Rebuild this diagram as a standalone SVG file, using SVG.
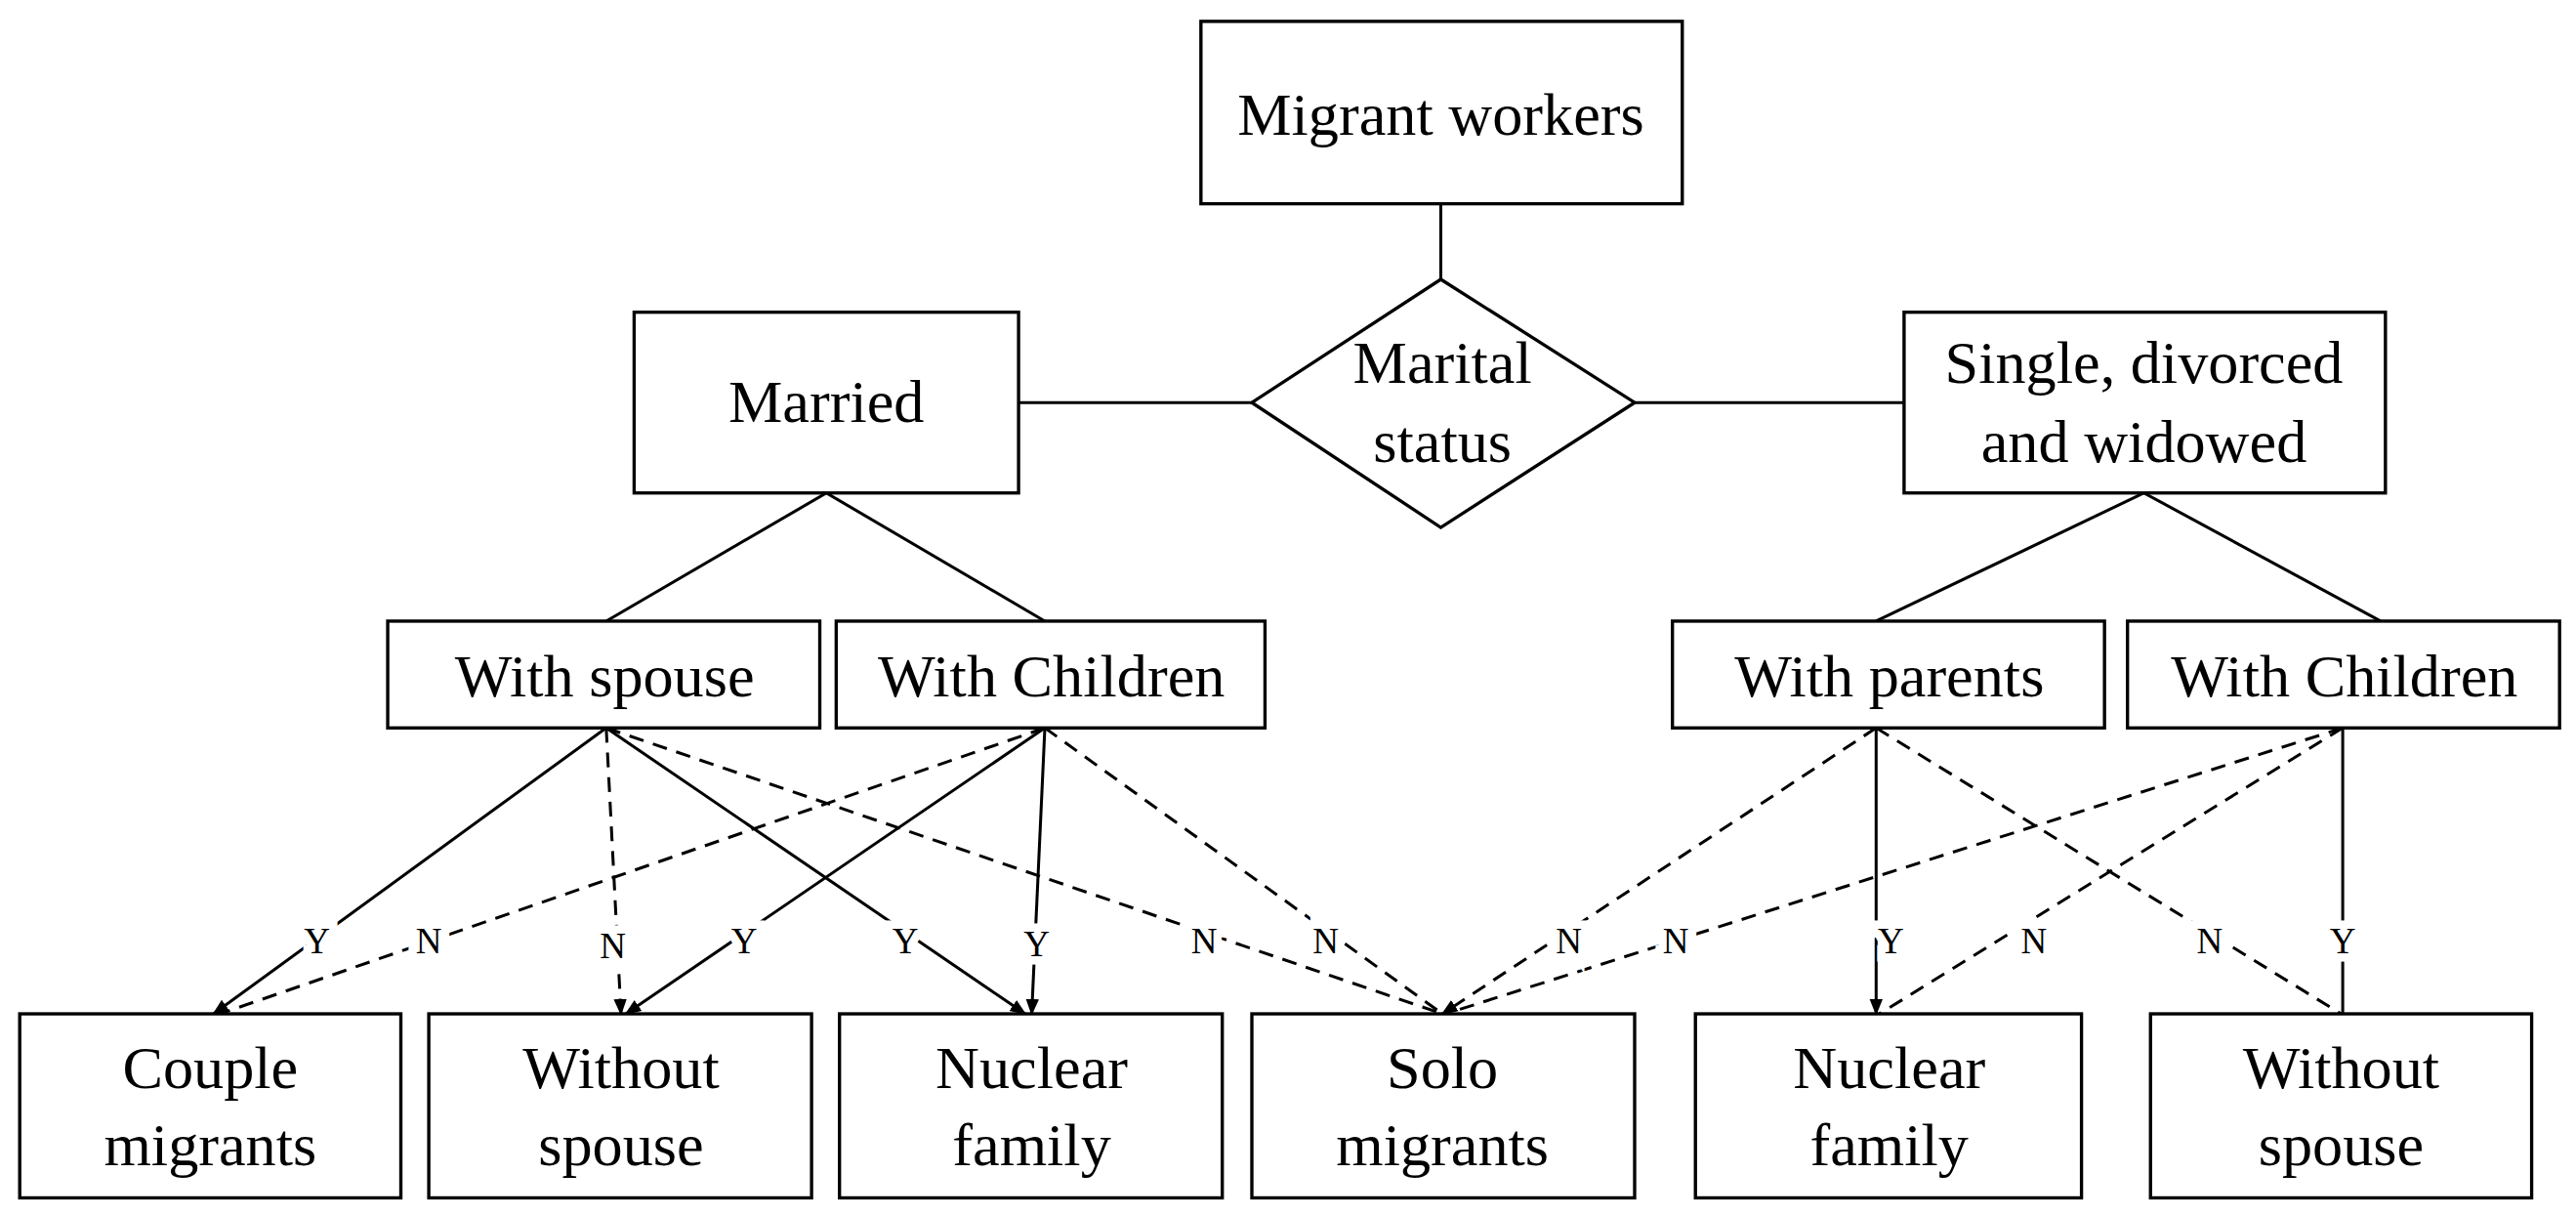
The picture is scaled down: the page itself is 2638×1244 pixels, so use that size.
<svg xmlns="http://www.w3.org/2000/svg" width="2638" height="1244" viewBox="0 0 2638 1244">
<style>
.b{fill:#fff;stroke:#000;stroke-width:2}
.t{font-family:"Liberation Serif",serif;font-size:37px;text-anchor:middle;fill:#000}
.l{font-family:"Liberation Serif",serif;font-size:22px;text-anchor:middle;fill:#000;stroke:#fff;stroke-width:10;paint-order:stroke}
.s{stroke:#000;stroke-width:1.8;fill:none}
.d{stroke:#000;stroke-width:1.8;fill:none;stroke-dasharray:9 6}
</style>
<defs><marker id="a" markerWidth="10" markerHeight="10" refX="9" refY="5" orient="auto" markerUnits="userSpaceOnUse"><path d="M0,1 L10,5 L0,9 Z" fill="#000"/></marker></defs>
<rect width="2638" height="1244" fill="#fff"/>
<g transform="scale(1.6824)">
<g id="connectors">
<line class="s" x1="877" y1="124" x2="877" y2="170"/>
<line class="s" x1="620" y1="245" x2="762" y2="245"/>
<line class="s" x1="995" y1="245" x2="1159" y2="245"/>
<line class="s" x1="503" y1="300" x2="369" y2="378"/>
<line class="s" x1="503" y1="300" x2="636" y2="378"/>
<line class="s" x1="1305" y1="300" x2="1142" y2="378"/>
<line class="s" x1="1305" y1="300" x2="1449" y2="378"/>
<line class="s" x1="369" y1="443" x2="130" y2="617" marker-end="url(#a)"/>
<line class="d" x1="369" y1="443" x2="378" y2="617" marker-end="url(#a)"/>
<line class="s" x1="369" y1="443" x2="624" y2="617" marker-end="url(#a)"/>
<line class="d" x1="369" y1="443" x2="878" y2="617"/>
<line class="d" x1="636" y1="443" x2="134" y2="617"/>
<line class="s" x1="636" y1="443" x2="381" y2="617" marker-end="url(#a)"/>
<line class="s" x1="636" y1="443" x2="628" y2="617" marker-end="url(#a)"/>
<line class="d" x1="636" y1="443" x2="878" y2="617"/>
<line class="d" x1="1142" y1="443" x2="878" y2="617" marker-end="url(#a)"/>
<line class="s" x1="1142" y1="443" x2="1142" y2="617" marker-end="url(#a)"/>
<line class="d" x1="1142" y1="443" x2="1425" y2="617"/>
<line class="d" x1="1426" y1="443" x2="880" y2="617"/>
<line class="d" x1="1426" y1="443" x2="1144" y2="617"/>
<line class="s" x1="1426" y1="443" x2="1426" y2="617"/>
<text class="l" x="193" y="580">Y</text>
<text class="l" x="261" y="580">N</text>
<text class="l" x="373" y="583">N</text>
<text class="l" x="453" y="580">Y</text>
<text class="l" x="551" y="580">Y</text>
<text class="l" x="631" y="582">Y</text>
<text class="l" x="733" y="580">N</text>
<text class="l" x="807" y="580">N</text>
<text class="l" x="955" y="580">N</text>
<text class="l" x="1020" y="580">N</text>
<text class="l" x="1151" y="580">Y</text>
<text class="l" x="1238" y="580">N</text>
<text class="l" x="1345" y="580">N</text>
<text class="l" x="1426" y="580">Y</text>
</g>
<g id="migrant"><rect class="b" x="731" y="13" width="293" height="111"/><text class="t" x="877" y="82">Migrant workers</text></g>
<g id="marital"><polygon class="b" points="877,170 995,245 877,321 762,245"/><text class="t" x="878" y="233">Marital</text><text class="t" x="878" y="281">status</text></g>
<g id="married"><rect class="b" x="386" y="190" width="234" height="110"/><text class="t" x="503" y="257">Married</text></g>
<g id="single"><rect class="b" x="1159" y="190" width="293" height="110"/><text class="t" x="1305" y="233">Single, divorced</text><text class="t" x="1305" y="281">and widowed</text></g>
<g id="withspouse"><rect class="b" x="236" y="378" width="263" height="65"/><text class="t" x="368" y="424">With spouse</text></g>
<g id="withchildren1"><rect class="b" x="509" y="378" width="261" height="65"/><text class="t" x="640" y="424">With Children</text></g>
<g id="withparents"><rect class="b" x="1018" y="378" width="263" height="65"/><text class="t" x="1150" y="424">With parents</text></g>
<g id="withchildren2"><rect class="b" x="1295" y="378" width="263" height="65"/><text class="t" x="1427" y="424">With Children</text></g>
<g id="couple"><rect class="b" x="12" y="617" width="232" height="112"/><text class="t" x="128" y="662">Couple</text><text class="t" x="128" y="709">migrants</text></g>
<g id="without1"><rect class="b" x="261" y="617" width="233" height="112"/><text class="t" x="378" y="662">Without</text><text class="t" x="378" y="709">spouse</text></g>
<g id="nuclear1"><rect class="b" x="511" y="617" width="233" height="112"/><text class="t" x="628" y="662">Nuclear</text><text class="t" x="628" y="709">family</text></g>
<g id="solo"><rect class="b" x="762" y="617" width="233" height="112"/><text class="t" x="878" y="662">Solo</text><text class="t" x="878" y="709">migrants</text></g>
<g id="nuclear2"><rect class="b" x="1032" y="617" width="235" height="112"/><text class="t" x="1150" y="662">Nuclear</text><text class="t" x="1150" y="709">family</text></g>
<g id="without2"><rect class="b" x="1309" y="617" width="232" height="112"/><text class="t" x="1425" y="662">Without</text><text class="t" x="1425" y="709">spouse</text></g>
</g>
</svg>
